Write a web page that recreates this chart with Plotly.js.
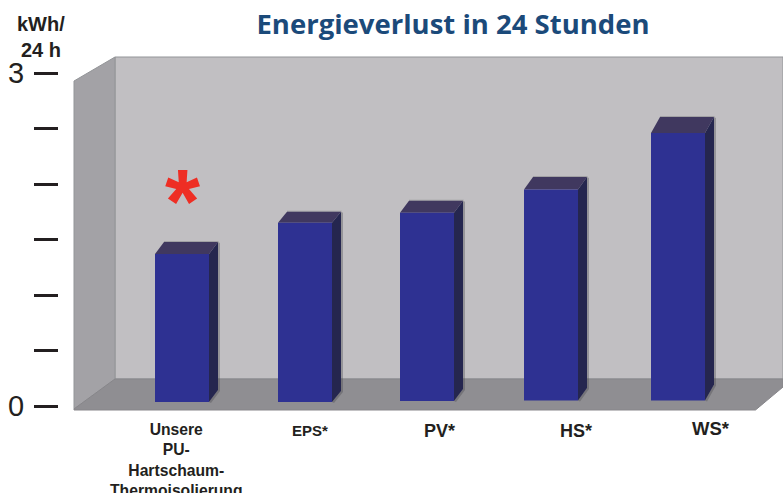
<!DOCTYPE html>
<html><head><meta charset="utf-8">
<script src="https://cdn.plot.ly/plotly-3.0.1.min.js"></script>
<style>html,body{margin:0;padding:0;background:#fff}#c{width:783px;height:493px}</style>
</head><body><div id="c"></div>
<script>
const categories = ["Unsere PU-Hartschaum-Thermoisolierung","EPS*","PV*","HS*","WS*"];
const values = [1.37,1.65,1.74,1.95,2.46];
const yTickVals = [0,0.5,1,1.5,2,2.5,3];
const yTickText = ["0","","","","","","3"];
const xLabels = ["Unsere<br>PU-<br>Hartschaum-<br>Thermoisolierung","EPS*","PV*","HS*","WS*"];

// page geometry (pixels)
const W=783,H=493,L=59,BARW=54,STEP=124,X0=182,PXU=111,Y0=406;
const nudge=[0,-1,-3,-3,0], basePx=[402,402,401,400.5,400.5], depthY=[12,11,12,12.5,16], depthX=9;
const labelPos=[[176,419.5],[310,421],[439,419.5],[576,419.5],[711,416.5]];
const labelSize=[15.7,15,18,18,18.5];

const xr=[(L-X0)/STEP,(W-X0)/STEP], yr=[(Y0-H)/PXU,(Y0)/PXU];
const X=p=>(p-X0)/STEP, Y=p=>(Y0-p)/PXU;
const poly=(pts)=>"M"+pts.map(p=>X(p[0])+","+Y(p[1])).join("L")+"Z";
const shp=(pts,fill,line)=>({type:"path",xref:"x",yref:"y",layer:"below",path:poly(pts),fillcolor:fill,
  line:line?{color:line,width:1}:{width:0}});

const idx=categories.map((_,i)=>i);
const bases=basePx.map(p=>Y(p));
const widthU=BARW/STEP;
const shapes=[
  shp([[115,57],[783,57],[783,379],[115,379]],"#c1bfc2","#939598"),
  shp([[74,81],[115,57],[115,379],[74,409]],"#a3a2a6","#939598"),
  shp([[74,409],[115,379],[783,379],[783,387],[755.5,410],[74,410]],"#8f8e92","#87868a")
];
values.forEach((v,i)=>{
  const l=X0+STEP*i+nudge[i]-BARW/2, r=l+BARW, t=Y0-v*PXU, b=basePx[i], d=depthY[i];
  shapes.push(shp([[r+depthX,t-d],[r+depthX+2,t-d+1],[r+depthX+2,b-d+1],[r+2,b+1],[r,b],[r+depthX,b-d]],"rgba(70,70,75,0.35)"));
  shapes.push(shp([[l+depthX,t-d-1],[r+depthX+1,t-d-1],[r+depthX,t-d],[l+depthX,t-d]],"rgba(70,70,75,0.25)"));
  shapes.push(shp([[l,t],[l+depthX,t-d],[r+depthX,t-d],[r,t]],"#40385f"));
  shapes.push(shp([[r,t],[r+depthX,t-d],[r+depthX,b-d],[r,b]],"#25264f"));
});

const annotations=xLabels.map((t,i)=>({xref:"x",yref:"y",x:X(labelPos[i][0]),y:Y(labelPos[i][1]),text:t,showarrow:false,
  xanchor:"center",yanchor:"top",align:"center",borderpad:0,font:{family:"Liberation Sans",size:labelSize[i],color:"#231f20",weight:"bold"}}));
annotations.push({xref:"paper",yref:"paper",x:(41-L)/(W-L),y:1-37/H,text:"kWh/<br>24 h",showarrow:false,xanchor:"center",yanchor:"middle",
  align:"center",font:{family:"Liberation Sans",size:20,color:"#231f20",weight:"bold"}});
annotations.push({xref:"x",yref:"y",x:idx[0],y:Y(202),text:"*",showarrow:false,xanchor:"center",yanchor:"middle",
  font:{family:"Liberation Sans",size:90,color:"#ee2e24",weight:"bold"}});

Plotly.newPlot("c",[{
  type:"bar",x:idx,y:values.map((v,i)=>v-bases[i]),base:bases,width:widthU,
  offset:nudge.map(n=>n/STEP-widthU/2),marker:{color:"#2e3192",line:{width:0}},text:categories,textposition:"none",hoverinfo:"text+y"
}],{
  width:W,height:H,margin:{l:L,r:0,t:0,b:0,pad:0},paper_bgcolor:"#fff",plot_bgcolor:"rgba(0,0,0,0)",showlegend:false,
  title:{text:"Energieverlust in 24 Stunden",x:453/W,xanchor:"center",y:1-24/H,yanchor:"middle",
    font:{family:"Open Sans",size:27.5,color:"#1b4a7a",weight:"bold"}},
  xaxis:{range:xr,showgrid:false,zeroline:false,showticklabels:false,ticks:"",showline:false,fixedrange:true},
  yaxis:{range:yr,showgrid:false,zeroline:false,showline:false,tickmode:"array",tickvals:yTickVals,ticktext:yTickText,
    ticks:"outside",ticklen:24,tickwidth:3,tickcolor:"#231f20",ticklabelstandoff:4,
    tickfont:{family:"Liberation Sans",size:29,color:"#231f20"},fixedrange:true},
  shapes,annotations
},{displayModeBar:false,staticPlot:true});
</script></body></html>
